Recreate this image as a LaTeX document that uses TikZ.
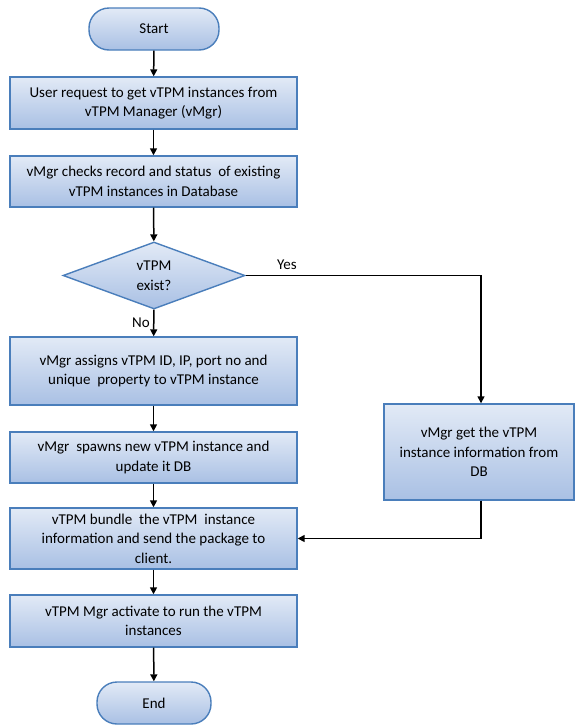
\documentclass[tikz,border=0pt]{standalone}
\usepackage{fontspec}
\setmainfont{Carlito}
\usetikzlibrary{shapes.geometric,arrows.meta}
\definecolor{boxline}{HTML}{4A7EBB}
\definecolor{boxtop}{HTML}{E2EAF6}
\definecolor{boxbot}{HTML}{A9C0E4}
\tikzset{
  flowbox/.style={draw=boxline, line width=1.4pt, top color=boxtop, bottom color=boxbot,
    align=center, font=\fontsize{15}{19.5}\selectfont, inner sep=2pt},
  procbox/.style={flowbox, rectangle, minimum width=287pt},
  termbox/.style={flowbox, rectangle, rounded corners=20pt, minimum height=42pt},
  decbox/.style={flowbox, diamond, aspect=2.7, minimum width=182pt, minimum height=67pt, inner sep=0pt},
  flowarrow/.style={line width=1.5pt, -{Triangle[length=7pt,width=7pt]}},
  flowlabel/.style={font=\fontsize{15}{17}\selectfont}
}
\begin{document}
\begin{tikzpicture}[x=1pt,y=-1pt]
\useasboundingbox (0,0) rectangle (575,726);

\node[termbox, minimum width=130pt] (start) at (154,29) {Start};
\node[procbox, minimum height=52pt] (req) at (153.5,103) {User request to get vTPM instances from\\vTPM Manager (vMgr)};
\node[procbox, minimum height=51pt] (check) at (153.5,181.5) {vMgr checks record and status\ \ of existing\\vTPM instances in Database};
\node[decbox] (exist) at (154,275.5) {vTPM\\exist?};
\node[procbox, minimum height=68pt] (assign) at (153.5,371) {vMgr assigns vTPM ID, IP, port no and\\unique\ \ property to vTPM instance};
\node[procbox, minimum height=51pt] (spawn) at (153.5,457.5) {vMgr\ \ spawns new vTPM instance and\\update it DB};
\node[procbox, minimum height=61pt] (bundle) at (153.5,538.5) {vTPM bundle\ \ the vTPM\ \ instance\\information and send the package to\\client.};
\node[procbox, minimum height=52pt] (activate) at (153.5,621) {vTPM Mgr activate to run the vTPM\\instances};
\node[termbox, minimum width=114pt] (end) at (154,703) {End};
\node[flowbox, rectangle, minimum width=190pt, minimum height=96pt] (getinfo) at (479,452) {vMgr get the vTPM\\instance information\ from\\DB};

\draw[flowarrow] (start) -- (req);
\draw[flowarrow] (req) -- (check);
\draw[flowarrow] (check) -- (exist);
\draw[flowarrow] (exist) -- node[flowlabel, left, pos=0.5] {No} (assign);
\draw[flowarrow] (assign) -- (spawn);
\draw[flowarrow] (spawn) -- (bundle);
\draw[flowarrow] (bundle) -- (activate);
\draw[flowarrow] (activate) -- (end);
\coordinate (yesdrop) at ([xshift=2pt]getinfo.north);
\draw[flowarrow] (exist.east) -| (yesdrop);
\node[flowlabel] (yes) at (287,265) {Yes};
\draw[flowarrow] ([xshift=2pt]getinfo.south) |- (bundle.east);
\end{tikzpicture}
\end{document}
